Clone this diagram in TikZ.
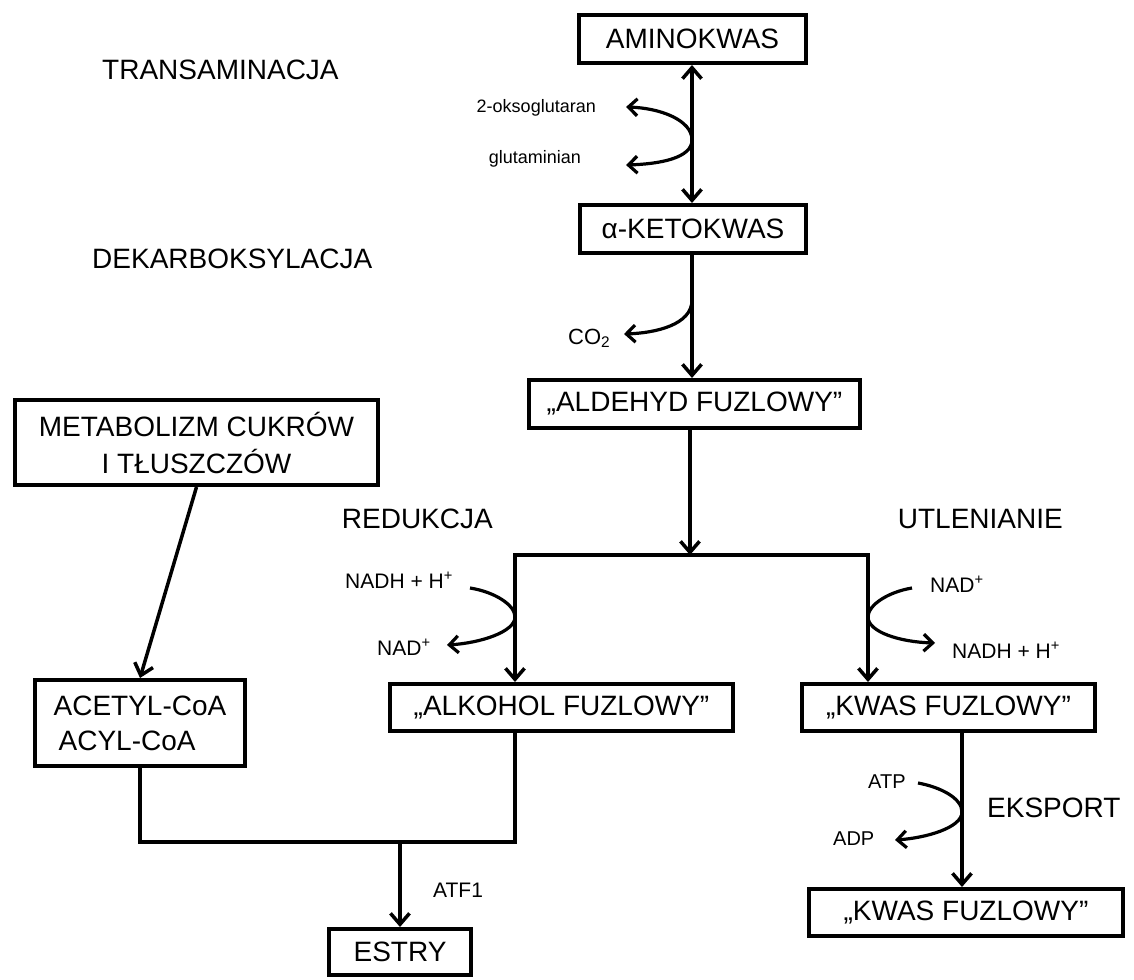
\documentclass[tikz,border=0pt]{standalone}
\usepackage{fontspec}
\setmainfont{Liberation Sans}
\usetikzlibrary{arrows.meta,calc}
\begin{document}
\begin{tikzpicture}[x=1pt,y=-1pt,
  box/.style={draw,line width=4pt,inner sep=0pt,font=\fontsize{28}{34}\selectfont,align=center},
  big/.style={inner sep=0pt,font=\fontsize{28}{34}\selectfont},
  small/.style={inner sep=0pt,font=\fontsize{21}{25}\selectfont},
  tiny/.style={inner sep=0pt,font=\fontsize{18}{21}\selectfont},
  arr/.style={line width=3.5pt,-{Straight Barb[length=11pt,width=19pt]}},
  darr/.style={line width=3.5pt,{Straight Barb[length=11pt,width=19pt]}-{Straight Barb[length=11pt,width=19pt]}},
  conn/.style={line width=3.5pt},
  barr/.style={line width=3.2pt,-{Straight Barb[length=9pt,width=17pt]}}
]
\useasboundingbox (0,0) rectangle (1134,979);
\fill[white] (0,0) rectangle (1134,979);

% boxes
\node[box,minimum width=227pt,minimum height=48pt] (am) at (692.5,39) {AMINOKWAS};
\node[box,minimum width=226pt,minimum height=48pt] (ke) at (693,229) {α-KETOKWAS};
\node[box,minimum width=331pt,minimum height=48pt] (ald) at (694.5,404) {„ALDEHYD FUZLOWY”};
\node[box,minimum width=343pt,minimum height=47pt] (alk) at (561.5,707.5) {„ALKOHOL FUZLOWY”};
\node[box,minimum width=293pt,minimum height=47pt] (kw1) at (948.5,707.5) {„KWAS FUZLOWY”};
\node[box,minimum width=314pt,minimum height=47pt] (kw2) at (966,912.5) {„KWAS FUZLOWY”};
\node[box,minimum width=210pt,minimum height=86pt,font=\fontsize{28}{35}\selectfont,align=left] (ac) at (140,723) {ACETYL-CoA\\\hspace*{5pt}ACYL-CoA};
\node[box,minimum width=363pt,minimum height=85pt,font=\fontsize{28}{37}\selectfont] (met) at (196.5,442.5) {METABOLIZM CUKRÓW\\I TŁUSZCZÓW};
\node[box,minimum width=142pt,minimum height=46pt] (es) at (400,952) {ESTRY};

% headings
\node[big,anchor=base west] (h1) at (102,80) {TRANSAMINACJA};
\node[big,anchor=base west] (h2) at (92,268) {DEKARBOKSYLACJA};
\node[big,anchor=base east] (h3) at (493,528) {REDUKCJA};
\node[big,anchor=base east] (h4) at (1063,528) {UTLENIANIE};
\node[big,anchor=base west] (h5) at (987,817) {EKSPORT};

% small labels
\node[tiny,anchor=base east] (l1) at (596,113) {2-oksoglutaran};
\node[tiny,anchor=base east] (l2) at (581,163) {glutaminian};
\node[inner sep=0pt,font=\fontsize{22}{26}\selectfont,anchor=base west] (l3) at (568,344) {CO\textsubscript{2}};
\node[small,anchor=base west] (l4) at (345,588) {NADH + H\textsuperscript{+}};
\node[small,anchor=base west] (l5) at (377,655) {NAD\textsuperscript{+}};
\node[small,anchor=base west] (l6) at (930,592) {NAD\textsuperscript{+}};
\node[small,anchor=base west] (l7) at (952,658) {NADH + H\textsuperscript{+}};
\node[inner sep=0pt,font=\fontsize{20}{24}\selectfont,anchor=base west] (l8) at (868,788) {ATP};
\node[inner sep=0pt,font=\fontsize{20}{24}\selectfont,anchor=base west] (l9) at (833,845) {ADP};
\node[small,anchor=base west] (l10) at (433,897) {ATF1};

% main connectors
\coordinate (kx) at (692,0);
\draw[darr] (kx |- am.south) -- (kx |- ke.north);
\draw[arr] (kx |- ke.south) -- (kx |- ald.north);

\coordinate (split) at (690,555);
\coordinate (jl) at (515,555);
\coordinate (jr) at (868,555);
\draw[arr] (split |- ald.south) -- (split);
\draw[conn] ($(jl)+(-1.75,0)$) -- ($(jr)+(1.75,0)$);
\draw[arr] (jl) -- (jl |- alk.north);
\draw[arr] (jr) -- (jr |- kw1.north);

\coordinate (bl) at (140,842);
\coordinate (br) at (515,842);
\coordinate (bm) at (400,842);
\draw[conn,line join=miter] (ac.south) -- (bl) -- (br) -- (br |- alk.south);
\draw[arr] (bm) -- (es.north);

\draw[arr] (met.south) -- (ac.north);

\coordinate (ex) at (962,0);
\draw[arr] (ex |- kw1.south) -- (ex |- kw2.north);

% side curves
\coordinate (t1) at (692,140);
\coordinate (o1) at (626,107);
\coordinate (o2) at (626,165);
\draw[barr] (t1) .. controls (692,120) and (660,108) .. (o1);
\draw[barr] (t1) .. controls (692,158) and (660,164) .. (o2);

\coordinate (t2) at (692,300);
\coordinate (o3) at (624,334);
\draw[barr] (t2) .. controls (692,325) and (655,333) .. (o3);

\coordinate (s4) at (470,588);
\coordinate (t4) at (515,617);
\coordinate (o4) at (447,645);
\draw[barr] (s4) .. controls (495,592) and (515,605) .. (t4) .. controls (515,632) and (480,643) .. (o4);

\coordinate (s5) at (912,588);
\coordinate (t5) at (868,617);
\coordinate (o5) at (935,643);
\draw[barr] (s5) .. controls (888,592) and (868,605) .. (t5) .. controls (868,632) and (900,642) .. (o5);

\coordinate (s6) at (918,783);
\coordinate (t6) at (962,812);
\coordinate (o6) at (895,840);
\draw[barr] (s6) .. controls (940,787) and (962,798) .. (t6) .. controls (962,828) and (925,838) .. (o6);
\end{tikzpicture}
\end{document}
